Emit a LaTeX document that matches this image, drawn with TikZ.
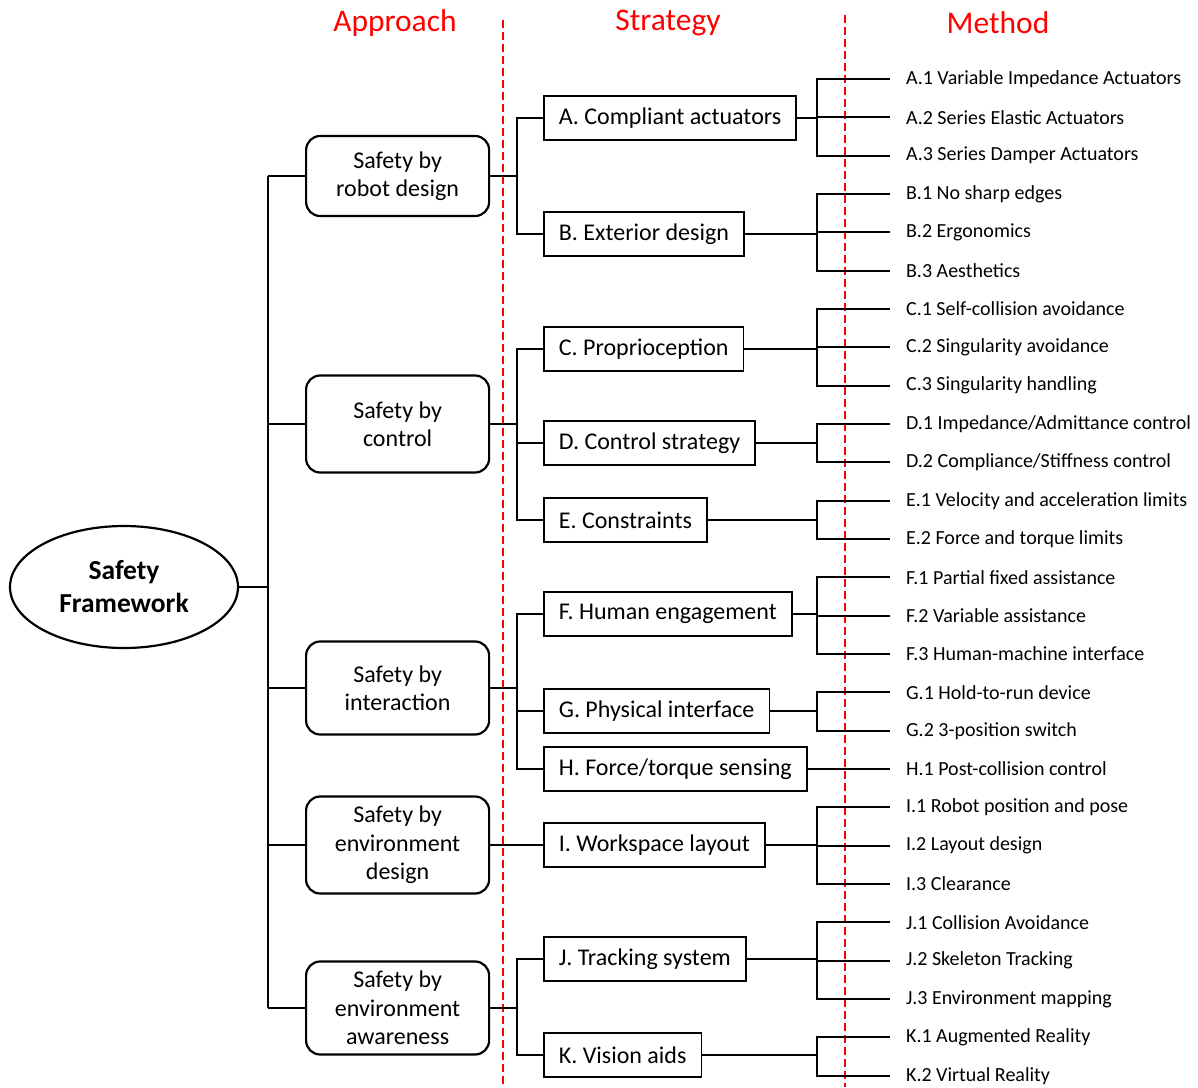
\documentclass[tikz,border=0pt]{standalone}
\usepackage{fontspec}
\setmainfont{Carlito}
\usetikzlibrary{positioning,shapes.geometric}
\definecolor{hdrred}{RGB}{255,0,0}

\begin{document}
\begin{tikzpicture}[x=1pt,y=-1pt,line width=2.2pt,
  appr/.style={draw,anchor=west,rounded corners=14pt,minimum width=183pt,minimum height=80pt,align=center,font=\fontsize{24}{28.5}\selectfont},
  strat/.style={draw,anchor=west,line width=1.7pt,minimum height=44pt,inner xsep=15pt,font=\fontsize{24}{28}\selectfont},
  meth/.style={anchor=west,inner xsep=15pt,inner ysep=0pt,font=\fontsize{20}{23}\selectfont},
  hdr/.style={text=hdrred,font=\fontsize{31.5}{36}\selectfont},
  sep/.style={draw=hdrred,line width=1.8pt,dash pattern=on 8pt off 4pt}]

\useasboundingbox (0,0) rectangle (1198,1087);

% column headers and separators
\node[hdr] (happ) at (395,23) {Approach};
\node[hdr] (hstr) at (668,23) {Strategy};
\node[hdr] (hmet) at (998,23) {Method};
\coordinate (s1t) at (503,20); \coordinate (s1b) at (503,1087);
\coordinate (s2t) at (845,15); \coordinate (s2b) at (845,1087);
\draw[sep] (s1t) -- (s1b);
\draw[sep] (s2t) -- (s2b);

% root
\node[ellipse,draw,minimum width=228pt,minimum height=122pt,align=center,font=\bfseries\fontsize{27.5}{33}\selectfont] (sf) at (124,587) {Safety\\Framework};
\coordinate (trT) at (268,176);
\coordinate (trB) at (268,1008);
\draw (sf.east) -- (sf.east -| trT);
\draw (trT) -- (trB);

% approach
\node[appr] (rd) at (305,176) {Safety by\\robot design};
\node[appr,minimum height=97pt] (ctl) at (305,424) {Safety by\\control};
\node[appr,minimum height=93pt] (itr) at (305,688) {Safety by\\interaction};
\node[appr,minimum height=97pt] (envd) at (305,845) {Safety by\\environment\\design};
\node[appr,minimum height=93pt] (enva) at (305,1008) {Safety by\\environment\\awareness};
\foreach \n in {rd,ctl,itr,envd,enva}
  \draw (\n.west) -- (\n.west -| trT);

% strategy
\node[strat] (A) at (543,118) {A. Compliant actuators};
\node[strat] (B) at (543,234) {B. Exterior design};
\node[strat] (C) at (543,349) {C. Proprioception};
\node[strat] (D) at (543,443) {D. Control strategy};
\node[strat] (E) at (543,520) {E. Constraints};
\node[strat] (F) at (543,614) {F. Human engagement};
\node[strat] (G) at (543,711) {G. Physical interface};
\node[strat] (H) at (543,769) {H. Force/torque sensing};
\node[strat] (I) at (543,845) {I. Workspace layout};
\node[strat] (J) at (543,959) {J. Tracking system};
\node[strat] (K) at (543,1055) {K. Vision aids};

\coordinate (jrd) at (517,176);
\coordinate (jctl) at (517,424);
\coordinate (jitr) at (517,688);
\coordinate (jenva) at (517,1008);
\draw (rd.east) -- (jrd);
\draw (A.west) -| (jrd);
\draw (B.west) -| (jrd);
\draw (ctl.east) -- (jctl);
\draw (C.west) -| (jctl);
\draw (D.west) -| (jctl);
\draw (E.west) -| (jctl);
\draw (itr.east) -- (jitr);
\draw (F.west) -| (jitr);
\draw (G.west) -| (jitr);
\draw (H.west) -| (jitr);
\draw (envd.east) -- (I.west);
\draw (enva.east) -- (jenva);
\draw (J.west) -| (jenva);
\draw (K.west) -| (jenva);

% method
\node[meth] (a1) at (890,79) {A.1 Variable Impedance Actuators};
\node[meth] (a2) at (890,117.3) {A.2 Series Elastic Actuators};
\node[meth] (a3) at (890,155.7) {A.3 Series Damper Actuators};
\node[meth] (b1) at (890,194) {B.1 No sharp edges};
\node[meth] (b2) at (890,232.3) {B.2 Ergonomics};
\node[meth] (b3) at (890,270.7) {B.3 Aesthetics};
\node[meth] (c1) at (890,309) {C.1 Self-collision avoidance};
\node[meth] (c2) at (890,347.3) {C.2 Singularity avoidance};
\node[meth] (c3) at (890,385.7) {C.3 Singularity handling};
\node[meth] (d1) at (890,424) {D.1 Impedance/Admittance control};
\node[meth] (d2) at (890,462.3) {D.2 Compliance/Stiffness control};
\node[meth] (e1) at (890,500.7) {E.1 Velocity and acceleration limits};
\node[meth] (e2) at (890,539) {E.2 Force and torque limits};
\node[meth] (f1) at (890,577.3) {F.1 Partial fixed assistance};
\node[meth] (f2) at (890,615.7) {F.2 Variable assistance};
\node[meth] (f3) at (890,654) {F.3 Human-machine interface};
\node[meth] (g1) at (890,692.3) {G.1 Hold-to-run device};
\node[meth] (g2) at (890,730.7) {G.2 3-position switch};
\node[meth] (h1) at (890,769) {H.1 Post-collision control};
\node[meth] (i1) at (890,807.3) {I.1 Robot position and pose};
\node[meth] (i2) at (890,845.7) {I.2 Layout design};
\node[meth] (i3) at (890,884) {I.3 Clearance};
\node[meth] (j1) at (890,922.3) {J.1 Collision Avoidance};
\node[meth] (j2) at (890,960.7) {J.2 Skeleton Tracking};
\node[meth] (j3) at (890,999) {J.3 Environment mapping};
\node[meth] (k1) at (890,1037.3) {K.1 Augmented Reality};
\node[meth] (k2) at (890,1075.7) {K.2 Virtual Reality};

\coordinate (mA) at (817,118);
\coordinate (mB) at (817,234);
\coordinate (mC) at (817,349);
\coordinate (mD) at (817,443);
\coordinate (mE) at (817,520);
\coordinate (mF) at (817,614);
\coordinate (mG) at (817,711);
\coordinate (mI) at (817,845);
\coordinate (mJ) at (817,959);
\coordinate (mK) at (817,1055);
\draw (A.east) -- (mA);
\draw (B.east) -- (mB);
\draw (C.east) -- (mC);
\draw (D.east) -- (mD);
\draw (E.east) -- (mE);
\draw (F.east) -- (mF);
\draw (G.east) -- (mG);
\draw (I.east) -- (mI);
\draw (J.east) -- (mJ);
\draw (K.east) -- (mK);
\foreach \m in {a1,a2,a3} \draw (\m.west) -| (mA);
\foreach \m in {b1,b2,b3} \draw (\m.west) -| (mB);
\foreach \m in {c1,c2,c3} \draw (\m.west) -| (mC);
\foreach \m in {d1,d2} \draw (\m.west) -| (mD);
\foreach \m in {e1,e2} \draw (\m.west) -| (mE);
\foreach \m in {f1,f2,f3} \draw (\m.west) -| (mF);
\foreach \m in {g1,g2} \draw (\m.west) -| (mG);
\draw (H.east) -- (h1.west);
\foreach \m in {i1,i2,i3} \draw (\m.west) -| (mI);
\foreach \m in {j1,j2,j3} \draw (\m.west) -| (mJ);
\foreach \m in {k1,k2} \draw (\m.west) -| (mK);
\end{tikzpicture}
\end{document}
